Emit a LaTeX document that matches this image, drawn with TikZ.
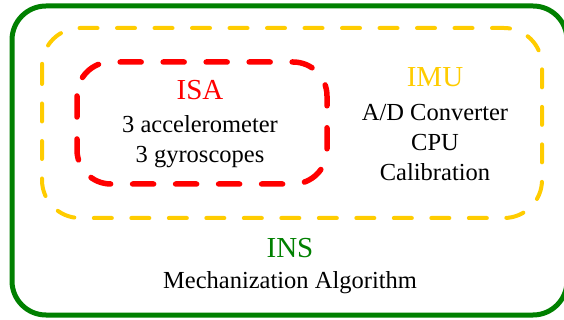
\documentclass[tikz,border=0pt]{standalone}
\usepackage{fontspec}
\setmainfont{Liberation Serif}
\usetikzlibrary{positioning}
\definecolor{insgreen}{RGB}{0,128,0}
\definecolor{imuyellow}{RGB}{255,204,0}
\definecolor{isared}{RGB}{255,0,0}
\tikzset{
  title/.style={font=\fontsize{29}{32}\selectfont},
  body/.style={font=\fontsize{24.5}{30}\selectfont,align=center,inner sep=0pt}
}

\begin{document}
\begin{tikzpicture}[x=1pt,y=-1pt,line cap=round]
\useasboundingbox(0,0)rectangle(564,320);
% outer, middle and inner frames
\draw[insgreen,line width=5pt,rounded corners=34pt](12,6)rectangle(567,315);
\draw[imuyellow,line width=4pt,rounded corners=38pt,dash pattern=on 18pt off 19.5pt](42,28)rectangle(542,218);
\draw[isared,line width=5.5pt,rounded corners=34pt,dash pattern=on 21pt off 22pt](77,62)rectangle(327,184);
% labels
\node[title,text=isared](isa)at(200,90){ISA};
\node[body](isalist)at(200,142){3 accelerometer\\3 gyroscopes};
\node[title,text=imuyellow](imu)at(435,77){IMU};
\node[body](imulist)at(435,143){A/D Converter\\CPU\\Calibration};
\node[title,text=insgreen](ins)at(290,248){INS};
\node[body](inslist)at(290,283){Mechanization Algorithm};
\end{tikzpicture}
\end{document}
